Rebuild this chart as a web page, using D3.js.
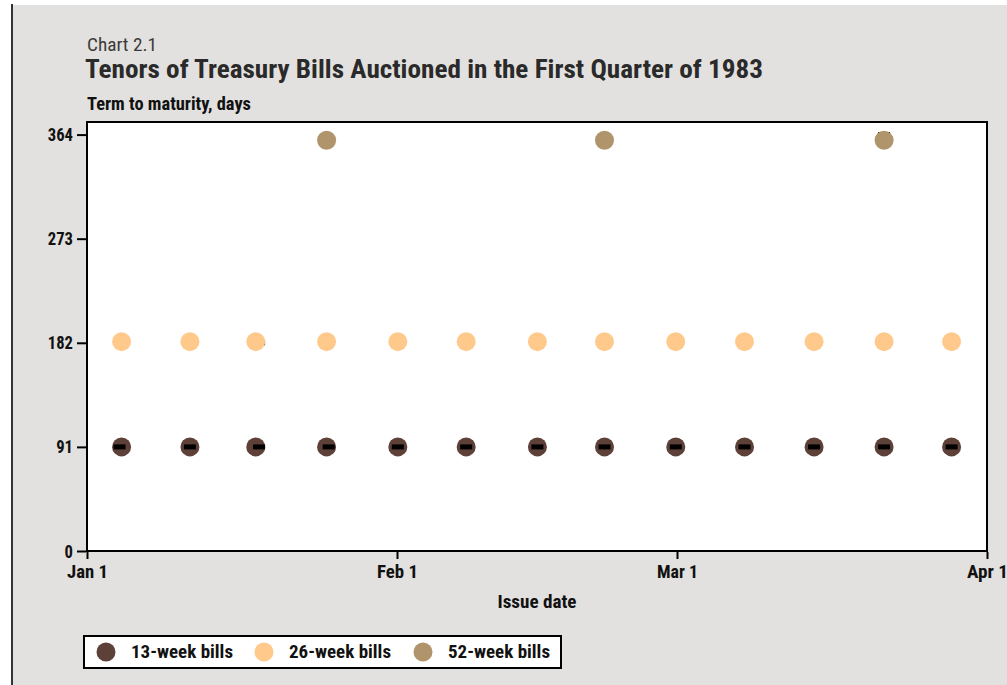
<!DOCTYPE html>
<html>
<head>
<meta charset="utf-8">
<script src="https://cdn.jsdelivr.net/npm/d3@7"></script>
<style>
  html, body { margin: 0; padding: 0; background: #fff; }
  svg { display: block; }
  text { font-family: Roboto, "Liberation Sans", sans-serif; font-stretch: condensed; }
</style>
</head>
<body>
<div id="chart"></div>
<script>
// issue dates of the weekly auctions
const issueDates = [
  '1983-01-04T11:00', '1983-01-11T07:00', '1983-01-17T21:00', '1983-01-24T23:00',
  '1983-02-01T02:00', '1983-02-07T22:00', '1983-02-15T01:00', '1983-02-21T18:00',
  '1983-02-28T21:00', '1983-03-07T18:00', '1983-03-14T17:00', '1983-03-21T17:00',
  '1983-03-28T11:00',
]
const bills13 = [91, 91, 91, 91, 91, 91, 91, 91, 91, 91, 91, 91, 91]
const bills26 = [183, 183, 183, 183, 183, 183, 183, 183, 183, 183, 183, 183, 183]
const dates52 = ['1983-01-24T23:00', '1983-02-21T18:00', '1983-03-21T17:00']
const bills52 = [359, 359, 359]

// small black dash markers drawn at the nominal tenors
const dashDates = [
  '1983-01-04T06:00', '1983-01-11T07:00', '1983-01-18T05:00', '1983-01-25T04:00',
  '1983-02-01T02:00', '1983-02-07T22:00', '1983-02-15T01:00', '1983-02-21T18:00',
  '1983-02-28T21:00', '1983-03-07T18:00', '1983-03-14T17:00', '1983-03-21T17:00',
  '1983-03-28T11:00', '1983-01-18T05:00', '1983-03-21T17:00',
]
const dashDays = [91, 91, 91, 91, 91, 91, 91, 91, 91, 91, 91, 91, 91, 182, 364]

const seriesNames = ['13-week bills', '26-week bills', '52-week bills']
const seriesColors = ['#5d4037', '#ffc98b', '#b0956c']

const yTicks = [0, 91, 182, 273, 364]
const xTicks = ['1983-01-01', '1983-02-01', '1983-03-01', '1983-04-01']

const width = 1007
const height = 685
const plot = { left: 87, right: 987, top: 122, bottom: 551 }
const parse = d3.isoParse

// stretch a text to the width it has in the original typeface
function fit(sel, w) {
  return sel.attr('textLength', w).attr('lengthAdjust', 'spacingAndGlyphs')
}

const svg = d3
  .select('#chart')
  .append('svg')
  .attr('width', width)
  .attr('height', height)

// page background with the grey panel and dark left rule
svg.append('rect').attr('width', width).attr('height', height).attr('fill', '#fff')
svg.append('rect').attr('x', 13).attr('y', 5).attr('width', width - 13).attr('height', height - 5).attr('fill', '#e2e1df')
svg.append('rect').attr('x', 11).attr('y', 4).attr('width', 2).attr('height', height - 4).attr('fill', '#333')

const x = d3
  .scaleTime()
  .domain([parse('1983-01-01'), parse('1983-04-01')])
  .range([plot.left, plot.right])

const y = d3.scaleLinear().domain([0, 375]).range([plot.bottom, plot.top])

// titles
fit(
  svg.append('text').attr('x', 87).attr('y', 51).attr('font-size', 18).attr('fill', '#3a3a3a').text('Chart 2.1'),
  70
)
fit(
  svg
    .append('text')
    .attr('x', 85)
    .attr('y', 78)
    .attr('font-size', 25)
    .attr('font-weight', 700)
    .attr('fill', '#2a2a2a')
    .text('Tenors of Treasury Bills Auctioned in the First Quarter of 1983'),
  678
)
fit(
  svg
    .append('text')
    .attr('x', 87)
    .attr('y', 110)
    .attr('font-size', 18)
    .attr('font-weight', 700)
    .attr('fill', '#111')
    .text('Term to maturity, days'),
  164
)

// plot area
svg
  .append('rect')
  .attr('x', plot.left)
  .attr('y', plot.top)
  .attr('width', plot.right - plot.left)
  .attr('height', plot.bottom - plot.top)
  .attr('fill', '#fff')
  .attr('stroke', '#000')
  .attr('stroke-width', 2)

// y axis
const yAxis = svg
  .append('g')
  .attr('transform', `translate(${plot.left - 1},0)`)
  .call(d3.axisLeft(y).tickValues(yTicks).tickSize(9).tickPadding(4))
yAxis.select('.domain').remove()
yAxis.selectAll('.tick line').attr('stroke', '#000').attr('stroke-width', 2)
yAxis
  .selectAll('.tick text')
  .attr('font-size', 19)
  .attr('font-weight', 700)
  .attr('fill', '#111')
  .attr('font-family', null)
  .each(function () {
    fit(d3.select(this), this.textContent.length * 8.4)
  })

// x axis
const xAxis = svg
  .append('g')
  .attr('transform', `translate(0,${plot.bottom + 1})`)
  .call(
    d3
      .axisBottom(x)
      .tickValues(xTicks.map(parse))
      .tickFormat(d3.timeFormat('%b %-d'))
      .tickSize(7)
      .tickPadding(6)
  )
xAxis.select('.domain').remove()
xAxis.selectAll('.tick line').attr('stroke', '#000').attr('stroke-width', 2)
xAxis
  .selectAll('.tick text')
  .attr('font-size', 19)
  .attr('font-weight', 700)
  .attr('fill', '#111')
  .attr('font-family', null)
  .each(function () {
    fit(d3.select(this), 41)
  })

fit(
  svg
    .append('text')
    .attr('x', (plot.left + plot.right) / 2)
    .attr('y', 608)
    .attr('text-anchor', 'middle')
    .attr('font-size', 19)
    .attr('font-weight', 700)
    .attr('fill', '#111')
    .text('Issue date'),
  79
)

const r = 9.5

// 13-week bills
svg
  .append('g')
  .selectAll('circle')
  .data(issueDates.map((d, i) => ({ date: parse(d), v: bills13[i] })))
  .join('circle')
  .attr('cx', (d) => x(d.date))
  .attr('cy', (d) => y(d.v))
  .attr('r', r)
  .attr('fill', seriesColors[0])

// dash markers
svg
  .append('g')
  .selectAll('rect')
  .data(dashDates.map((d, i) => ({ date: parse(d), v: dashDays[i] })))
  .join('rect')
  .attr('x', (d) => x(d.date) - 6)
  .attr('y', (d) => y(d.v) - 2.5)
  .attr('width', 12)
  .attr('height', 5)
  .attr('fill', '#000')

// 26-week bills
svg
  .append('g')
  .selectAll('circle')
  .data(issueDates.map((d, i) => ({ date: parse(d), v: bills26[i] })))
  .join('circle')
  .attr('cx', (d) => x(d.date))
  .attr('cy', (d) => y(d.v))
  .attr('r', r)
  .attr('fill', seriesColors[1])

// 52-week bills
svg
  .append('g')
  .selectAll('circle')
  .data(dates52.map((d, i) => ({ date: parse(d), v: bills52[i] })))
  .join('circle')
  .attr('cx', (d) => x(d.date))
  .attr('cy', (d) => y(d.v))
  .attr('r', r)
  .attr('fill', seriesColors[2])

// legend
const legend = svg.append('g')
legend
  .append('rect')
  .attr('x', 84)
  .attr('y', 636)
  .attr('width', 477)
  .attr('height', 32)
  .attr('fill', '#fff')
  .attr('stroke', '#000')
  .attr('stroke-width', 2)

const legendX = [106, 264, 423]
seriesNames.forEach((name, i) => {
  legend
    .append('circle')
    .attr('cx', legendX[i])
    .attr('cy', 652)
    .attr('r', r)
    .attr('fill', seriesColors[i])
  fit(
    legend
      .append('text')
      .attr('x', legendX[i] + 25)
      .attr('y', 658)
      .attr('font-size', 19)
      .attr('font-weight', 700)
      .attr('fill', '#111')
      .text(name),
    102
  )
})
</script>
</body>
</html>
